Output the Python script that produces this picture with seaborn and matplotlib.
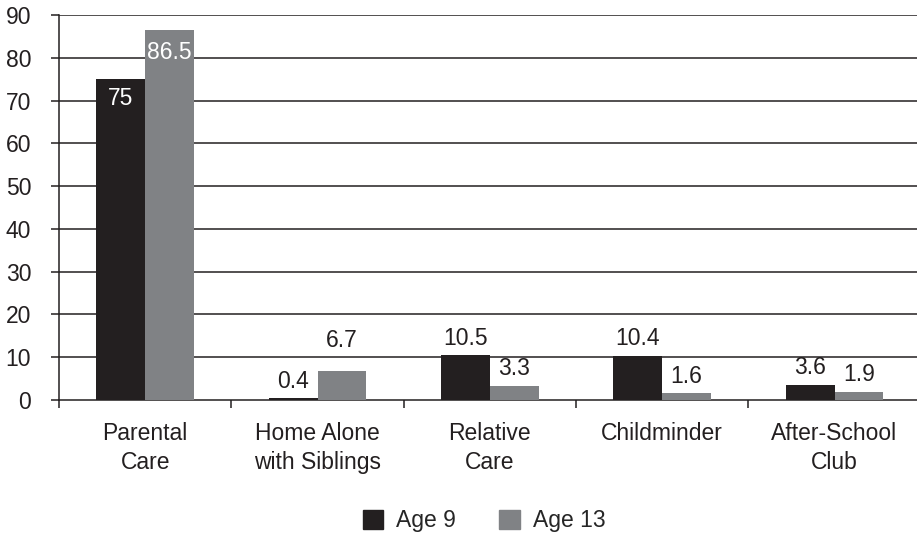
import matplotlib
matplotlib.use("Agg")
import matplotlib.pyplot as plt
import pandas as pd
import seaborn as sns

categories = ["Parental\nCare", "Home Alone\nwith Siblings", "Relative\nCare", "Childminder", "After-School\nClub"]
age9 = [75, 0.4, 10.5, 10.4, 3.6]
age13 = [86.5, 6.7, 3.3, 1.6, 1.9]
series = ["Age 9", "Age 13"]
colors = ["#231f20", "#808285"]

df = pd.DataFrame({
    "category": categories * 2,
    "value": age9 + age13,
    "age": [series[0]] * len(categories) + [series[1]] * len(categories),
})

sns.set_theme(style="white")
plt.rcParams["font.family"] = ["Liberation Sans", "DejaVu Sans"]
FS = 16.5

fig = plt.figure(figsize=(9.17, 5.35), dpi=100)
ax = fig.add_axes([59 / 917, 1 - 400 / 535, 1.004 - 59 / 917, (400 - 15) / 535])

sns.barplot(data=df, x="category", y="value", hue="age", hue_order=series,
            palette=colors, width=0.565, gap=0, saturation=1, dodge=True,
            edgecolor="none", linewidth=0, legend=False, ax=ax, zorder=3)

ax.set_ylim(0, 90)
ax.set_xlim(-0.5, 4.5)
ax.set_yticks(range(0, 91, 10))
ax.set_xlabel("")
ax.set_ylabel("")

# horizontal gridlines
for yv in range(10, 91, 10):
    ax.axhline(yv, color="#231f20", lw=1.1, zorder=1)

for s in ["top", "right"]:
    ax.spines[s].set_visible(False)
for s in ["left", "bottom"]:
    ax.spines[s].set_color("#231f20")
    ax.spines[s].set_linewidth(1.1)

ax.tick_params(axis="y", which="major", left=True, length=6, width=1.1,
               color="#231f20", pad=14, labelsize=FS, labelcolor="#231f20")
# category ticks sit at boundaries between groups
ax.set_xticks([i - 0.5 for i in range(len(categories) + 1)], minor=False)
ax.set_xticklabels([""] * (len(categories) + 1))
ax.tick_params(axis="x", which="major", bottom=True, length=6, width=1.1, color="#231f20")
ax.set_xticks(range(len(categories)), minor=True)
ax.set_xticklabels(categories, minor=True, fontsize=FS, color="#231f20", linespacing=1.32)
ax.tick_params(axis="x", which="minor", bottom=False, length=0, pad=16)

# value labels
label_offsets = {(0, 0): -6, (0, 1): -8, (1, 1): 14}
bw = 0.565 / 2
for si, vals in enumerate([age9, age13]):
    for ci, v in enumerate(vals):
        x = ci + (si - 0.5) * bw
        off = label_offsets.get((ci, si), 4)
        inside = off < 0
        ax.annotate(f"{v:g}", (x, v), xytext=(0, off), textcoords="offset points",
                    ha="center", va="top" if inside else "bottom", fontsize=FS,
                    color="white" if inside else "#231f20", zorder=4)

handles = [plt.Rectangle((0, 0), 1, 1, color=c) for c in colors]
fig.legend(handles, series, loc="center", bbox_to_anchor=(484 / 917, 1 - 521 / 535),
           ncol=2, frameon=False, fontsize=FS, handlelength=0.9, handleheight=0.9,
           handletextpad=0.55, columnspacing=1.9)

fig.savefig("out.png", dpi=100)
